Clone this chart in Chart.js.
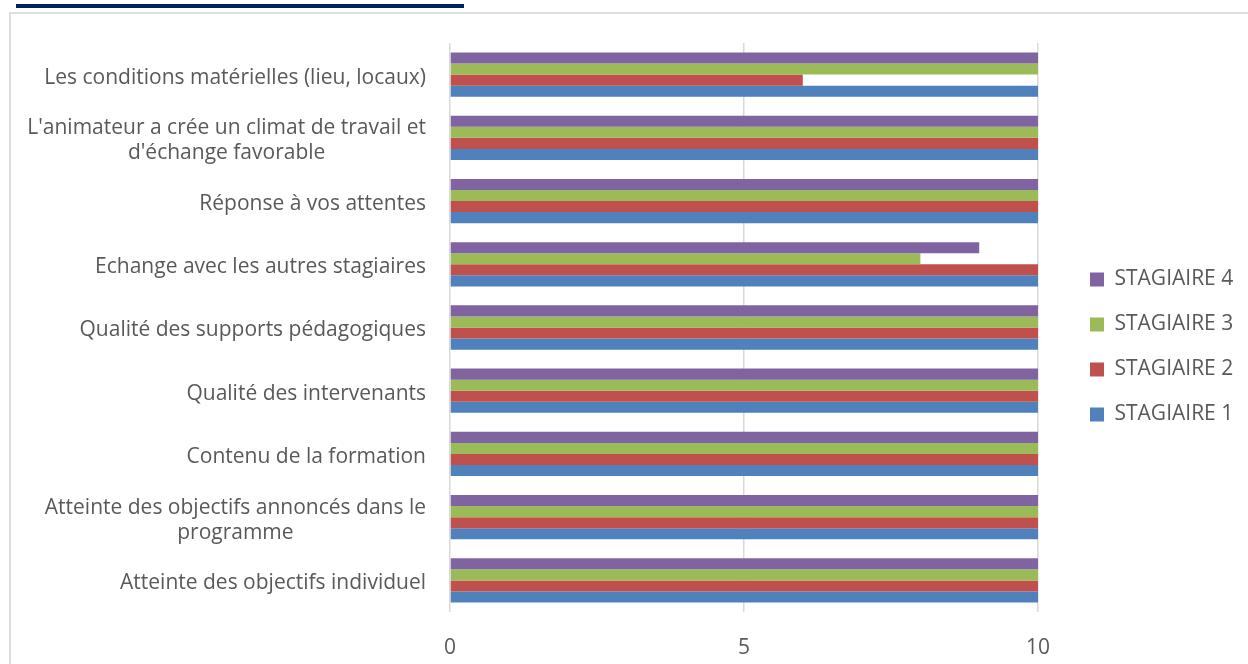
<!DOCTYPE html>
<html>
<head>
<meta charset="utf-8">
<script src="https://cdn.jsdelivr.net/npm/chart.js@4/dist/chart.umd.min.js"></script>
<style>
  html, body { margin: 0; padding: 0; background: #fff; overflow: hidden; }
  #navy { position: absolute; left: 16px; top: 4px; width: 448px; height: 4px; background: #002060; }
  #frame { position: absolute; left: 9px; top: 12px; width: 1400px; height: 800px; border: 2px solid #dedede; }
  #wrap { position: absolute; left: 0; top: 0; width: 1248px; height: 664px; }
</style>
</head>
<body>
<div id="navy"></div>
<div id="frame"></div>
<div id="wrap"><canvas id="c"></canvas></div>
<script>
const categories = [
  "Les conditions matérielles (lieu, locaux)",
  ["L'animateur a crée un climat de travail et", "d'échange favorable"],
  "Réponse à vos attentes",
  "Echange avec les autres stagiaires",
  "Qualité des supports pédagogiques",
  "Qualité des intervenants",
  "Contenu de la formation",
  ["Atteinte des objectifs annoncés dans le", "programme"],
  "Atteinte des objectifs individuel"
];
const seriesNames = ["STAGIAIRE 4", "STAGIAIRE 3", "STAGIAIRE 2", "STAGIAIRE 1"];
const stagiaire4 = [10, 10, 10, 9, 10, 10, 10, 10, 10];
const stagiaire3 = [10, 10, 10, 8, 10, 10, 10, 10, 10];
const stagiaire2 = [6, 10, 10, 10, 10, 10, 10, 10, 10];
const stagiaire1 = [10, 10, 10, 10, 10, 10, 10, 10, 10];
const xTicks = [0, 5, 10];

const colors = ["#8064A2", "#9BBB59", "#C0504D", "#4F81BD"];
const FONT = "'Open Sans'";
const FS = 21;
const LFS = 21;
const TXT = "#595959";

const mctx = document.createElement('canvas').getContext('2d');
mctx.font = LFS + 'px ' + FONT;
const legendTextW = Math.max(...seriesNames.map(s => mctx.measureText(s).width));
const LEG_PAD = 24, BOX = 14;
const legendW = LEG_PAD + BOX + LFS / 2 + legendTextW + 10;
const legendLeft = 1066;
const padRight = Math.max(0, 1248 - legendLeft - legendW);

const yLabelPlugin = {
  id: 'yLabels',
  afterDraw(chart) {
    const ys = chart.scales.y;
    const ctx = chart.ctx;
    ctx.save();
    ctx.font = FS + 'px ' + FONT;
    ctx.fillStyle = TXT;
    ctx.textAlign = 'center';
    ctx.textBaseline = 'middle';
    categories.forEach((lab, i) => {
      const lines = Array.isArray(lab) ? lab : [lab];
      const w = Math.max(...lines.map(l => ctx.measureText(l).width));
      const cx = ys.right - 24 - w / 2;
      const yc = ys.getPixelForValue(i);
      lines.forEach((l, k) => ctx.fillText(l, cx, yc + 3 + (k - (lines.length - 1) / 2) * 25));
    });
    ctx.restore();
  }
};

const data = [stagiaire4, stagiaire3, stagiaire2, stagiaire1];

new Chart(document.getElementById('c'), {
  type: 'bar',
  data: {
    labels: categories,
    datasets: data.map((d, i) => ({
      label: seriesNames[i],
      data: d,
      backgroundColor: colors[i],
      borderWidth: 0,
      categoryPercentage: 0.7,
      barPercentage: 1.0,
      yAxisID: 'y',
      xAxisID: 'x'
    }))
  },
  options: {
    indexAxis: 'y',
    responsive: true,
    maintainAspectRatio: false,
    animation: false,
    layout: { padding: { top: 31, bottom: 1, left: 0, right: padRight } },
    scales: {
      y: {
        type: 'category',
        position: 'left',
        grid: { display: false },
        border: { display: false },
        ticks: { display: false },
        afterFit: s => { s.width = 450; }
      },
      yR: {
        type: 'category',
        axis: 'y',
        position: 'right',
        grid: { display: false },
        border: { display: false },
        ticks: { display: false },
        afterFit: s => { s.width = 28; }
      },
      x: {
        type: 'linear',
        position: 'bottom',
        min: 0,
        max: 10,
        afterBuildTicks: s => { s.ticks = xTicks.map(v => ({ value: v })); },
        grid: { color: '#d9d9d9', lineWidth: 1.5, drawTicks: false },
        border: { display: false },
        ticks: { color: TXT, font: { family: FONT, size: FS }, padding: 23 },
        afterFit: s => { s.height = 51; }
      },
      xTop: {
        type: 'linear',
        axis: 'x',
        position: 'top',
        min: 0,
        max: 10,
        grid: { display: false },
        border: { display: false },
        ticks: { display: false },
        afterFit: s => { s.height = 12; }
      }
    },
    plugins: {
      legend: {
        position: 'right',
        align: 'center',
        labels: {
          boxWidth: BOX,
          boxHeight: BOX,
          padding: LEG_PAD,
          color: TXT,
          font: { family: FONT, size: LFS }
        }
      },
      tooltip: { enabled: false }
    }
  },
  plugins: [yLabelPlugin]
});
</script>
</body>
</html>
